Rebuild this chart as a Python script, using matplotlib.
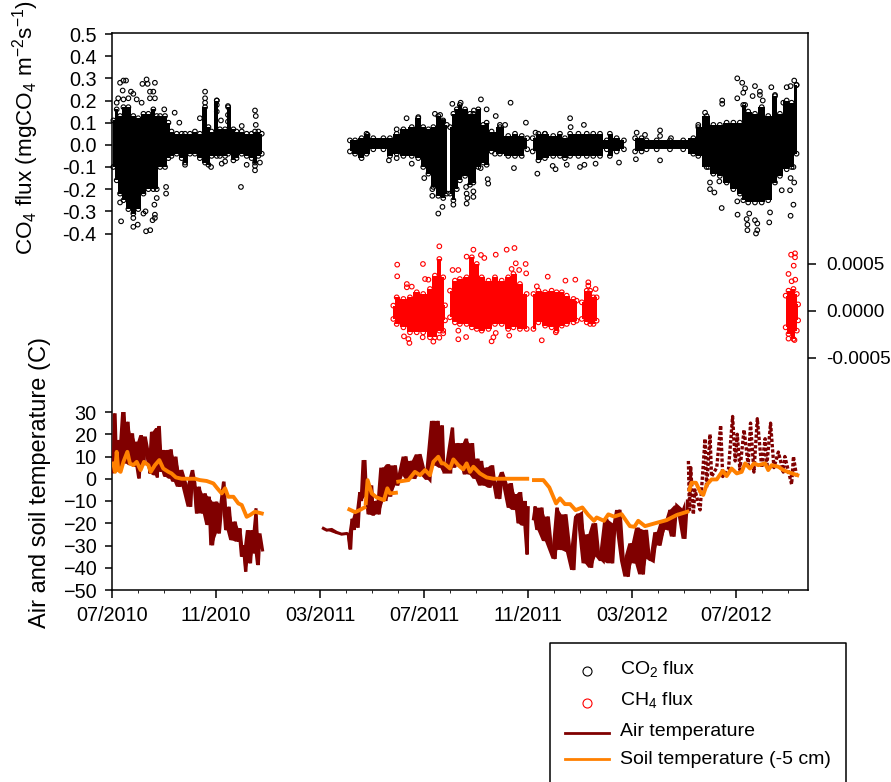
import numpy as np
import matplotlib
matplotlib.use('Agg')
import matplotlib.pyplot as plt
from matplotlib.lines import Line2D

plt.rcParams['font.family'] = ['Liberation Sans', 'DejaVu Sans']
plt.rcParams['mathtext.default'] = 'regular'

# x values are months since 07/2010
tick_pos = [0, 4, 8, 12, 16, 20, 24]
tick_labels = ['07/2010', '11/2010', '03/2011', '07/2011', '11/2011', '03/2012', '07/2012']

# CO2 flux: bulk of the cloud read as upper / lower edge, nan = gap
co2_band_t = [0.05, 0.18, 0.31, 0.44, 0.63, 0.82, 1.01, 1.21, 1.40, 1.59, 1.72, 1.85, 2.04, 2.17, 2.29, 2.49, 2.68, 2.81,
              3.00, 3.19, 3.38, 3.58, 3.71, 3.83, 4.03, 4.15, 4.35, 4.47, 4.67, 4.79, 4.99, 5.18, 5.37, 5.50, 5.63, 5.76, np.nan,
              9.15, 9.35, 9.60, 9.79, 10.05, 10.44, 10.69, 10.95, 11.21, 11.53, 11.78, 11.97, 12.17, 12.36, 12.55, 12.74, 12.88, np.nan,
              13.00, 13.13, 13.26, 13.38, 13.58, 13.77, 13.90, 14.09, 14.28, 14.41, 14.60, 14.92, 15.24, 15.50, 15.76, 15.97, np.nan,
              16.18, 16.40, 16.65, 16.97, 17.23, 17.42, 17.62, 17.94, 18.26, 18.51, 18.77, 19.03, 19.15, 19.41, 19.69, np.nan,
              20.12, 20.37, 20.56, 20.95, 21.46, 21.97, 22.36, 22.55, 22.87, 23.13, 23.38, 23.64, 23.90, 24.15, 24.28, 24.47,
              24.73, 24.99, 25.24, 25.50, 25.69, 25.95, 26.14, 26.33]
co2_band_hi = [0.11, 0.16, 0.13, 0.17, 0.17, 0.13, 0.12, 0.14, 0.14, 0.16, 0.13, 0.13, 0.13, 0.10, 0.06, 0.05, 0.05, 0.05,
               0.05, 0.06, 0.05, 0.17, 0.08, 0.06, 0.20, 0.07, 0.07, 0.17, 0.07, 0.06, 0.06, 0.05, 0.05, 0.06, 0.06, 0.05, np.nan,
               0.02, 0.02, 0.03, 0.05, 0.03, 0.03, 0.03, 0.05, 0.07, 0.08, 0.12, 0.08, 0.07, 0.08, 0.13, 0.11, 0.09, np.nan,
               0.08, 0.14, 0.16, 0.18, 0.16, 0.14, 0.14, 0.16, 0.09, 0.10, 0.06, 0.08, 0.04, 0.05, 0.04, 0.03, np.nan,
               0.03, 0.05, 0.05, 0.04, 0.05, 0.03, 0.05, 0.05, 0.05, 0.05, 0.05, 0.02, 0.05, 0.03, 0.02, np.nan,
               0.03, 0.03, 0.02, 0.02, 0.02, 0.02, 0.03, 0.08, 0.13, 0.09, 0.09, 0.10, 0.10, 0.10, 0.18, 0.15,
               0.14, 0.17, 0.13, 0.22, 0.14, 0.20, 0.19, 0.27]
co2_band_lo = [-0.10, -0.16, -0.22, -0.25, -0.29, -0.31, -0.29, -0.22, -0.20, -0.20, -0.20, -0.10, -0.10, -0.06, -0.05, -0.04, -0.06, -0.08,
               -0.04, -0.04, -0.06, -0.08, -0.09, -0.05, -0.05, -0.05, -0.05, -0.04, -0.07, -0.06, -0.04, -0.05, -0.06, -0.08, -0.05, -0.04, np.nan,
               -0.03, -0.04, -0.06, -0.04, -0.02, -0.02, -0.05, -0.04, -0.05, -0.05, -0.06, -0.10, -0.13, -0.19, -0.23, -0.24, -0.22, np.nan,
               -0.22, -0.25, -0.20, -0.16, -0.14, -0.18, -0.17, -0.10, -0.08, -0.09, -0.03, -0.04, -0.05, -0.05, -0.05, -0.02, np.nan,
               -0.03, -0.07, -0.06, -0.05, -0.05, -0.06, -0.05, -0.05, -0.05, -0.05, -0.05, -0.02, -0.05, -0.03, -0.02, np.nan,
               -0.03, -0.03, -0.02, -0.02, -0.02, -0.02, -0.04, -0.05, -0.10, -0.13, -0.14, -0.17, -0.20, -0.22, -0.25, -0.26,
               -0.26, -0.26, -0.25, -0.17, -0.14, -0.11, -0.10, -0.04]

# CO2 flux: individual points outside the bulk
co2_t = [0.31, 0.44, 0.54, 0.41, 0.73, 0.82, 0.18, 0.24, 0.44, 0.63, 0.95, 1.14, 1.17, 1.33, 1.37, 1.65, 1.46, 1.59, 1.46, 1.65,
         2.01, 2.41, 2.59, 3.58, 3.58, 3.58, 4.03, 4.03, 4.03, 4.46, 4.46, 4.46, 4.99, 5.50, 5.53, 5.53, 3.38, 4.19,
         0.35, 0.82, 0.99, 1.31, 1.47, 1.21, 1.29, 1.65, 1.65, 1.56, 1.63, 0.82, 0.31, 1.72, 2.08, 2.08, 4.96, 3.81, 2.81, 4.35, 4.22, 5.18, 5.50, 5.69, 5.50,
         11.33, 10.95, 11.78, 9.83, 12.42, 12.62, 12.74, 12.55, 12.71, 12.32, 12.32, 12.01, 11.53, 10.95, 10.65,
         13.09, 13.41, 14.19, 15.33, 14.41, 14.76, 13.92, 15.92, 14.92, 15.12, 17.62, 17.64, 18.15, 16.29, 16.65, 20.18, 20.50, 21.08, 21.08, 21.50,
         13.13, 13.64, 13.64, 13.67, 13.90, 13.90, 13.62, 14.45, 14.47, 14.18, 15.46, 16.36, 17.06, 16.95, 17.49, 18.00, 18.17, 18.60, 19.50, 20.15, 21.08, 14.73,
         24.05, 24.24, 24.35, 24.28, 24.73, 24.64, 24.92, 24.92, 25.36, 24.05, 23.47, 23.47, 22.81, 26.24, 25.95, 26.10, 26.33, 25.50, 25.82, 25.03, 24.35, 22.55,
         24.44, 24.77, 24.82, 24.44, 24.41, 24.51, 24.73, 24.82, 24.06, 23.45, 25.28, 25.31, 26.21, 26.10, 25.76, 26.08, 26.24, 26.10, 26.21, 23.17, 23.00, 23.00, 23.36, 24.05, 22.94]
co2_v = [0.28, 0.29, 0.29, 0.245, 0.24, 0.23, 0.19, 0.21, 0.205, 0.21, 0.205, 0.19, 0.275, 0.295, 0.275, 0.28, 0.24, 0.24, 0.21, 0.21,
         0.16, 0.145, 0.10, 0.24, 0.21, 0.19, 0.20, 0.18, 0.15, 0.175, 0.135, 0.105, 0.085, 0.155, 0.13, 0.09, 0.12, 0.11,
         -0.345, -0.37, -0.36, -0.39, -0.385, -0.31, -0.30, -0.315, -0.33, -0.34, -0.27, -0.33, -0.26, -0.24, -0.19, -0.22, -0.19, -0.10, -0.09, -0.075, -0.085, -0.09, -0.115, -0.08, -0.095,
         0.12, 0.07, 0.125, 0.045, 0.14, 0.135, 0.105, -0.31, -0.28, -0.20, -0.23, -0.15, -0.085, -0.06, -0.07,
         0.185, 0.19, 0.205, 0.19, 0.16, 0.13, 0.155, 0.10, 0.09, 0.09, 0.12, 0.08, 0.09, 0.055, 0.05, 0.055, 0.045, 0.065, 0.04, 0.03,
         -0.27, -0.265, -0.22, -0.24, -0.21, -0.235, -0.19, -0.155, -0.175, -0.105, -0.105, -0.13, -0.11, -0.095, -0.09, -0.10, -0.09, -0.085, -0.08, -0.065, -0.07, -0.04,
         0.30, 0.28, 0.255, 0.235, 0.265, 0.22, 0.24, 0.225, 0.26, 0.21, 0.20, 0.185, 0.145, 0.29, 0.26, 0.265, 0.27, 0.225, 0.19, 0.20, 0.18, 0.09,
         -0.385, -0.40, -0.385, -0.36, -0.335, -0.31, -0.34, -0.355, -0.315, -0.285, -0.35, -0.305, -0.27, -0.32, -0.205, -0.205, -0.17, -0.15, -0.10, -0.215, -0.20, -0.17, -0.165, -0.255, -0.10]

# CH4 flux, in units of 1e-4 on the right hand axis
ch4_band_t = [10.82, 10.95, 11.21, 11.46, 11.72, 11.97, 12.23, 12.42, 12.59, 12.74, 12.81, np.nan,
              13.00, 13.19, 13.38, 13.64, 13.84, 14.03, 14.22, 14.48, 14.73, 14.99, 15.24, 15.44, 15.69, 15.95, np.nan,
              16.21, 16.40, 16.66, 16.91, 17.10, 17.30, 17.49, 17.75, 17.87, np.nan,
              18.07, 18.26, 18.39, 18.52, 18.64, np.nan,
              25.91, 26.02, 26.21, 26.34, 26.39]
ch4_band_hi = [0.57, 1.45, 1.28, 1.45, 1.99, 1.81, 2.34, 3.76, 5.53, 3.58, 0.6, np.nan,
               2.16, 3.23, 3.40, 3.58, 5.71, 5.00, 3.58, 3.23, 3.58, 3.23, 3.58, 3.94, 2.87, 1.81, np.nan,
               1.81, 2.16, 1.99, 2.16, 1.99, 1.99, 1.63, 1.28, 1.10, np.nan,
               0.92, 2.16, 2.16, 1.45, 1.45, np.nan,
               1.63, 2.16, 2.34, 1.81, 0.7]
ch4_band_lo = [-0.85, -1.38, -1.74, -2.27, -2.27, -2.27, -2.80, -2.80, -2.09, -2.09, -1.0, np.nan,
               -0.67, -1.21, -1.38, -1.38, -1.74, -1.91, -2.09, -1.91, -1.38, -1.38, -1.91, -1.74, -1.91, -1.91, np.nan,
               -1.91, -1.21, -1.56, -1.74, -2.09, -1.56, -1.38, -1.21, -1.03, np.nan,
               -0.85, -1.21, -1.38, -1.38, -1.03, np.nan,
               -1.74, -2.45, -2.98, -2.09, -1.0]
ch4_t = [12.59, 10.97, 10.97, 11.96, 12.04, 12.17, 11.34, 11.34, 11.53, 13.10, 13.32, 13.64, 13.90, 14.19, 14.32, 14.76, 15.18, 15.48,
         15.53, 15.91, 15.93, 15.66, 15.37, 16.76, 17.44, 17.82, 16.34, 18.32, 18.32, 18.60, 26.12, 26.27, 26.27, 26.22, 26.02, 26.28, 26.14,
         11.23, 11.40, 11.44, 11.95, 12.36, 12.74, 12.59, 13.32, 13.32, 13.62, 14.60, 14.67, 14.76, 15.28, 16.53, 17.07, 26.02, 26.25]
ch4_v = [6.88, 4.93, 3.69, 5.00, 3.40, 3.33, 2.87, 2.52, 2.59, 4.36, 4.36, 5.78, 6.52, 5.96, 5.64, 5.99, 6.52, 6.70,
         5.07, 5.00, 4.00, 4.36, 4.47, 3.65, 3.23, 3.33, 2.62, 3.05, 2.70, 2.34, 5.99, 6.13, 5.71, 4.82, 3.94, 3.33, 3.16,
         -2.70, -2.98, -3.40, -2.80, -3.26, -2.38, -2.84, -2.09, -3.01, -2.77, -3.23, -2.80, -2.34, -2.62, -3.12, -2.27, -2.94, -3.09]

# air temperature, solid part
air_t = [0.03, 0.12, 0.18, 0.28, 0.36, 0.46, 0.54, 0.62, 0.72, 0.79, 0.90, 0.97, 1.05, 1.13, 1.23, 1.28, 1.41, 1.46, 1.56, 1.65, 1.72, 1.74, 1.82, 1.91,
         1.97, 2.06, 2.15, 2.23, 2.28, 2.38, 2.46, 2.59, 2.68, 2.87, 3.03, 3.10, 3.19, 3.26, 3.36, 3.49, 3.59, 3.71, 3.74, 3.87, 4.03, 4.13, 4.23, 4.31,
         4.41, 4.51, 4.62, 4.74, 4.87, 4.92, 5.03, 5.08, 5.15, 5.23, 5.33, 5.41, 5.49, 5.54, 5.63, 5.69, 5.79, np.nan,
         8.13, 8.26, 8.45, 8.64, 8.83, 9.03, 9.09, 9.18, 9.24, 9.31, 9.38, 9.47, 9.54, 9.60, 9.73, 9.79, 9.90, 9.99, 10.05, 10.18, 10.28, 10.44, 10.54, 10.64,
         10.72, 10.90, 10.99, 11.14, 11.31, 11.40, 11.53, 11.65, 11.85, 12.04, 12.23, 12.36, 12.42, 12.55, 12.62, 12.71, 12.77, 13.03, 13.10, 13.18, 13.31,
         13.41, 13.49, 13.56, 13.64, 13.74, 13.87, 13.97, 14.08, 14.15, 14.22, 14.31, 14.44, 14.54, 14.64, 14.73, 14.92, 15.01, 15.18, 15.26, 15.36, 15.50,
         15.56, 15.63, 15.72, 15.82, 15.90, 15.97, 16.01, np.nan,
         16.21, 16.28, 16.36, 16.54, 16.65, 16.78, 16.91, 17.05, 17.13, 17.29, 17.46, 17.62, 17.77, 17.87, 18.06, 18.19, 18.32, 18.45, 18.60, 18.73, 18.90,
         19.03, 19.26, 19.35, 19.54, 19.67, 19.86, 19.99, 20.12, 20.24, 20.44, 20.56, 20.67, 20.82, 20.95, 21.08, 21.27, 21.40, 21.46, 21.62, 21.72, 21.91, 22.04, 22.13]
air_v = [3.1, 29.4, 3.9, 17.4, 5.4, 31.6, 6.9, 25.6, 6.1, 20.4, 5.4, 16.6, 0.1, 19.6, 6.1, 18.9, 10.6, 2.4, 21.1, 1.6, 22.6, 0.6, 23.7, 3.1,
         12.9, 0.9, 12.9, 0.1, 13.2, -1.3, 9.9, -3.6, 3.9, -3.6, -12.6, 3.9, -2.1, -15.6, -3.6, -15.6, -6.6, -20.8, -8.1, -29.9, -10.3, -24.6, -11.1, -1.3,
         -23.1, -12.6, -27.6, -19.3, -28.3, -22.3, -35.1, -29.9, -41.8, -23.1, -38.0, -23.1, -33.5, -13.3, -38.8, -24.6, -32.0, np.nan,
         -22.3, -23.1, -22.8, -24.1, -24.9, -24.6, -25.0, -31.8, -18.0, -23.0, -15.0, -22.0, -6.0, -10.0, 8.4, -8.0, -16.0, -3.0, -16.5, -10.0, -16.0, 5.0, -10.0, 6.5,
         -8.0, 6.0, -3.0, 2.0, 10.0, -1.0, 8.0, 0.0, 11.0, 2.0, -0.5, 26.0, 6.0, 26.0, 5.0, 24.0, 3.0, 3.0, 23.0, 5.0, 16.0,
         6.0, 16.0, 2.0, 18.0, 2.0, 16.0, 0.0, 9.0, -3.0, 8.0, -3.0, 5.0, -4.0, 6.0, -3.0, -9.0, 3.0, -3.0, -13.0, -2.0, -14.0,
         -7.0, -20.0, -6.0, -21.0, -10.0, -34.0, -13.0, np.nan,
         -18.0, -12.5, -23.0, -13.0, -28.0, -17.0, -32.0, -36.0, -13.0, -32.0, -16.0, -33.0, -41.0, -17.0, -15.6, -38.0, -25.0, -40.0, -20.0, -35.0, -37.0,
         -18.0, -38.0, -20.0, -14.0, -37.0, -44.0, -29.0, -38.0, -22.0, -43.0, -23.0, -36.0, -37.0, -24.0, -30.0, -19.0, -23.0, -14.0, -26.0, -12.0, -14.0, -27.0, -10.0]

# air temperature, broken part at the end of the record
air2_t = [22.17, 22.21, 22.26, 22.36, 22.42, 22.62, 22.68, 22.81, 22.87, 23.00, 23.06, 23.26, 23.41, 23.49, 23.71, 23.87, 23.97, 24.05, 24.15, 24.31, 24.47,
          24.56, 24.69, 24.82, 24.99, 25.12, 25.18, 25.33, 25.46, 25.63, 25.82, 25.88, 26.14, 26.21, 26.33]
air2_v = [8.0, -14.0, 5.0, -16.0, -5.0, -14.0, -4.0, 18.0, -4.0, 20.0, 1.0, 5.0, 24.0, 1.0, 4.0, 28.0, 8.0, 20.0, 4.0, 22.0, 6.0,
          25.0, 3.0, 27.0, 5.0, 18.0, 5.0, 25.0, 5.0, 12.0, 3.0, 10.0, -2.5, 10.0, 1.0]

# soil temperature (-5 cm)
soil_t = [0.05, 0.12, 0.18, 0.24, 0.33, 0.44, 0.59, 0.69, 0.82, 0.95, 1.10, 1.23, 1.40, 1.49, 1.65, 1.82, 1.97, 2.17, 2.29, 2.46, 2.68, 3.19, 3.38, 3.64, 3.90,
          4.05, 4.22, 4.35, 4.47, 4.67, 4.86, 4.99, 5.18, 5.31, 5.50, 5.76, np.nan,
          9.13, 9.35, 9.54, 9.71, np.nan,
          9.76, 9.83, 9.99, 10.18, 10.46, 10.59, 10.69, 10.92, np.nan,
          11.01, 11.40, 11.65, 11.85, 12.04, 12.23, 12.36, 12.55, 12.68, 12.77, 13.00, 13.13, 13.32, 13.51, 13.64, 13.77, 13.90, 14.15, 14.41, 14.67, 15.31, 15.97, np.nan,
          16.23, 16.59, 16.82, 17.08, 17.23, 17.42, 17.62, 17.83, 18.09, 18.32, 18.54, 18.64, 18.92, 19.09, 19.31, 19.60, 19.92, 20.09, 20.24, 20.50, 20.95, 21.33, 21.72, 22.13, np.nan,
          22.21, 22.29, 22.46, 22.62, 22.74, 22.87, 23.06, 23.26, 23.49, 23.64, 23.83, 24.03, 24.22, 24.35, 24.54, 24.69, 24.86, 25.12, 25.24, 25.37, 25.63, 25.82, 26.08, 26.36]
soil_v = [6.9, 3.1, 12.1, 3.9, 3.1, 7.6, 12.1, 6.9, 6.1, 7.6, 3.9, 7.6, 6.1, 3.1, 6.1, 8.4, 4.6, 3.1, 2.4, 0.6, 0.0, 0.0, -0.6, -1.0, -2.1,
          -4.3, -6.6, -4.3, -8.1, -8.1, -11.1, -11.8, -17.1, -16.3, -14.8, -15.6, np.nan,
          -13.8, -15.0, -14.0, -12.9, np.nan,
          -11.0, -0.6, -6.6, -8.4, -9.6, -4.3, -6.6, -6.3, np.nan,
          -1.3, -0.6, 3.1, 1.6, 3.9, 1.6, 7.6, 9.9, 6.9, 6.9, 4.6, 8.7, 6.1, 4.2, 6.9, 3.1, 5.4, 2.4, 0.6, 0.0, 0.0, 0.0, np.nan,
          -0.6, -0.6, -3.9, -11.1, -8.8, -11.4, -11.4, -14.1, -12.9, -16.3, -18.9, -17.4, -18.9, -16.0, -17.0, -15.9, -21.3, -21.6, -18.9, -21.3, -19.8, -18.6, -16.3, -14.8, np.nan,
          -5.0, -1.8, -1.8, -5.8, -7.3, -2.8, -0.3, -0.3, 3.6, 1.2, 4.6, 2.4, 3.1, 6.9, 4.6, 6.9, 6.1, 6.9, 3.9, 6.1, 5.4, 3.9, 2.7, 1.6]

FIG_W, FIG_H = 891, 782
LEFT, RIGHT = 112, 808
DARK_RED = '#800000'
ORANGE = '#FF8000'
TICK_FONT = 14.3


def fx(px):
    return px / FIG_W


def fy(py):
    return 1 - py / FIG_H


def panel(top, bottom):
    ax = fig.add_axes([fx(LEFT), fy(bottom), fx(RIGHT) - fx(LEFT), fy(top) - fy(bottom)])
    ax.patch.set_visible(False)
    ax.set_xlim(0, 26.77)
    for side in ax.spines:
        ax.spines[side].set_visible(False)
    ax.tick_params(axis='both', labelsize=TICK_FONT, width=1.1, length=5, pad=6)
    ax.set_xticks([])
    return ax


def draw_cloud(ax, band_t, band_hi, band_lo, pts_t, pts_v, color, scale=1.0):
    band_t = np.array(band_t)
    hi = np.array(band_hi) * scale
    lo = np.array(band_lo) * scale
    ok = ~np.isnan(band_t)
    ax.fill_between(band_t, lo, hi, where=ok, color=color, lw=0, step='mid')
    for edge in (hi, lo):
        ax.scatter(band_t, edge, s=11, facecolors='none', edgecolors=color, linewidths=0.8, clip_on=False)
    ax.scatter(pts_t, np.array(pts_v) * scale, s=11, facecolors='none', edgecolors=color, linewidths=0.8, clip_on=False)


fig = plt.figure(figsize=(FIG_W / 100, FIG_H / 100), dpi=100)

# full height frame carries the box, the date axis and the CH4 ticks
ax_ch4 = fig.add_axes([fx(LEFT), fy(590), fx(RIGHT) - fx(LEFT), fy(33) - fy(590)])
ax_ch4.set_xlim(0, 26.77)
ax_ch4.set_ylim(-0.002968, 0.002957)
for side in ax_ch4.spines:
    ax_ch4.spines[side].set_linewidth(1.1)
ax_ch4.yaxis.tick_right()
ax_ch4.set_yticks([-0.0005, 0, 0.0005])
ax_ch4.set_yticklabels(['-0.0005', '0.0000', '0.0005'])
ax_ch4.set_xticks(tick_pos)
ax_ch4.set_xticklabels(tick_labels)
ax_ch4.set_xticks(np.arange(27), minor=True)
ax_ch4.tick_params(axis='x', which='major', labelsize=TICK_FONT, width=1.1, length=5.5, pad=6)
ax_ch4.tick_params(axis='x', which='minor', width=0.6, length=2)
ax_ch4.tick_params(axis='y', labelsize=13.7, width=1.1, length=5.8, pad=7)
draw_cloud(ax_ch4, ch4_band_t, ch4_band_hi, ch4_band_lo, ch4_t, ch4_v, 'red', scale=1e-4)

ax_co2 = panel(34, 233.5)
ax_co2.set_ylim(-0.4, 0.5)
ax_co2.set_yticks(np.arange(-4, 6) / 10)
ax_co2.set_yticklabels(['-0.4', '-0.3', '-0.2', '-0.1', '0.0', '0.1', '0.2', '0.3', '0.4', '0.5'])
draw_cloud(ax_co2, co2_band_t, co2_band_hi, co2_band_lo, co2_t, co2_v, 'black')

ax_temp = panel(412, 590)
ax_temp.set_ylim(-50, 30)
ax_temp.set_yticks(np.arange(-50, 31, 10))

# the record is so dense it reads as a solid band: fill between neighbouring readings
air_arr = np.array(air_v)
air_lo = np.append(np.minimum(air_arr[:-1], air_arr[1:]), np.nan)
air_hi = np.append(np.maximum(air_arr[:-1], air_arr[1:]), np.nan)
ax_temp.fill_between(air_t, air_lo, air_hi, where=~np.isnan(air_lo), color=DARK_RED, lw=0)
ax_temp.plot(air_t, air_v, color=DARK_RED, lw=2.2, solid_joinstyle='miter')
ax_temp.plot(air2_t, air2_v, color=DARK_RED, lw=2.4, linestyle=(0, (1.0, 0.6)))
ax_temp.plot(soil_t, soil_v, color=ORANGE, lw=2.8)

fig.text(fx(26), fy(128), 'CO$_4$ flux (mgCO$_4$ m$^{-2}$s$^{-1}$)', rotation=90, fontsize=16.2, ha='center', va='center')
fig.text(fx(40), fy(483), 'Air and soil temperature (C)', rotation=90, fontsize=17, ha='center', va='center')

# legend box runs off the bottom of the picture
fig.add_artist(Line2D([fx(v) for v in (550, 550, 846, 846)], [fy(v) for v in (782, 643, 643, 782)], color='black', lw=1.1))
fig.add_artist(Line2D([fx(587)], [fy(671)], marker='o', mfc='none', mec='black', ms=6.5, mew=0.8))
fig.add_artist(Line2D([fx(587)], [fy(703)], marker='o', mfc='none', mec='red', ms=6.5, mew=0.8))
fig.add_artist(Line2D([fx(565), fx(609)], [fy(733), fy(733)], color=DARK_RED, lw=2))
fig.add_artist(Line2D([fx(565), fx(609)], [fy(759), fy(759)], color=ORANGE, lw=2))
fig.text(fx(620), fy(669), 'CO$_2$ flux', fontsize=14, va='center')
fig.text(fx(620), fy(700), 'CH$_4$ flux', fontsize=14, va='center')
fig.text(fx(620), fy(732), 'Air temperature', fontsize=14, va='center')
fig.text(fx(620), fy(759), 'Soil temperature (-5 cm)', fontsize=14, va='center')

fig.savefig('out.png', dpi=100)
